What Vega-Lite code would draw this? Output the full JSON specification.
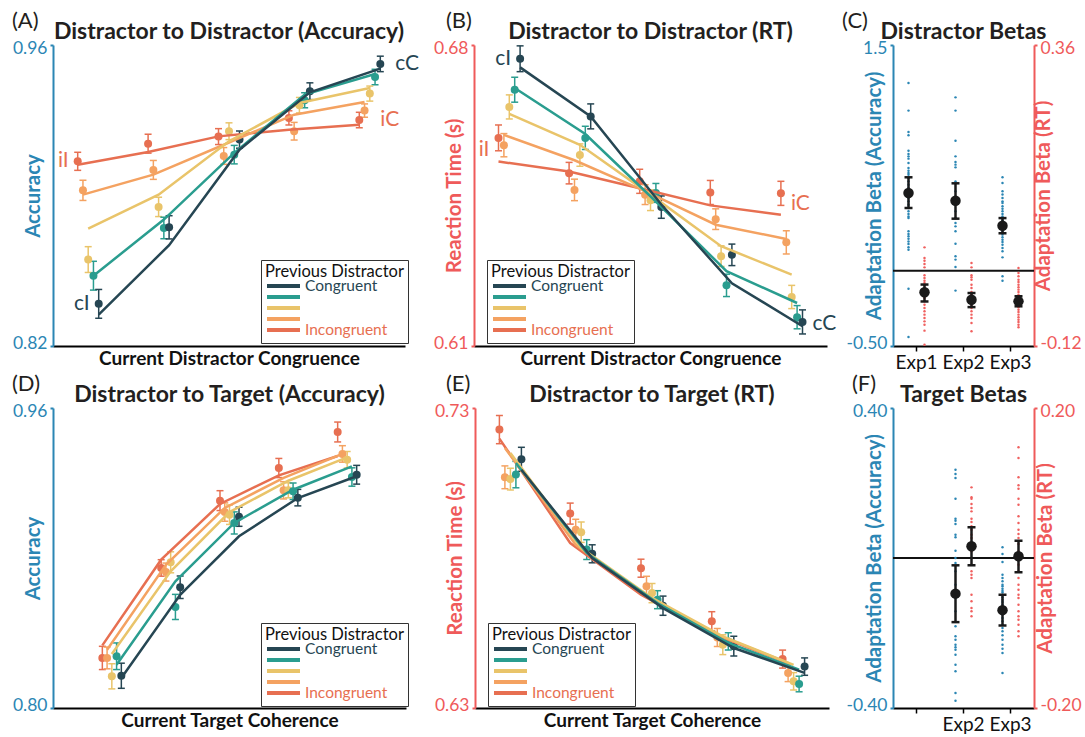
{
"$schema":"https://vega.github.io/schema/vega-lite/v6.json",
"padding":{"left":12,"top":10,"right":30,"bottom":0},
"background":"white",
"config":{"font":"Lato","view":{"stroke":null},
 "title":{"font":"Lato","fontSize":23,"fontWeight":"bold","color":"#231f20"},
 "axis":{"grid":false,"labelFont":"Lato","titleFont":"Lato"},
 "legend":{"labelFont":"Lato","titleFont":"Lato"},
 "text":{"font":"Lato"}},
"datasets":{
"A":[{"l":1,"p":"p5","m":0.9059,"lo":0.9017,"hi":0.9101,"f":0.9043},{"l":1,"p":"p4","m":0.8924,"lo":0.8877,"hi":0.8971,"f":0.8904},{"l":1,"p":"p3","m":0.8602,"lo":0.8542,"hi":0.8662,"f":0.8746},{"l":1,"p":"p2","m":0.8527,"lo":0.846,"hi":0.8594,"f":0.8527},{"l":1,"p":"p1","m":0.8396,"lo":0.8329,"hi":0.8463,"f":0.8346},
{"l":2,"p":"p5","m":0.9141,"lo":0.9097,"hi":0.9185,"f":0.9102},{"l":2,"p":"p4","m":0.9019,"lo":0.8975,"hi":0.9063,"f":0.8997},{"l":2,"p":"p3","m":0.8847,"lo":0.8802,"hi":0.8892,"f":0.8904},{"l":2,"p":"p2","m":0.8749,"lo":0.8699,"hi":0.8799,"f":0.8788},{"l":2,"p":"p1","m":0.8752,"lo":0.8698,"hi":0.8806,"f":0.8669},
{"l":3,"p":"p5","m":0.9174,"lo":0.9137,"hi":0.9211,"f":0.9175},{"l":3,"p":"p4","m":0.9084,"lo":0.9045,"hi":0.9123,"f":0.9136},{"l":3,"p":"p3","m":0.9199,"lo":0.916,"hi":0.9238,"f":0.9152},{"l":3,"p":"p2","m":0.909,"lo":0.9047,"hi":0.9133,"f":0.9098},{"l":3,"p":"p1","m":0.916,"lo":0.912,"hi":0.92,"f":0.9113},
{"l":4,"p":"p5","m":0.9261,"lo":0.9228,"hi":0.9294,"f":0.9206},{"l":4,"p":"p4","m":0.9199,"lo":0.9158,"hi":0.924,"f":0.9276},{"l":4,"p":"p3","m":0.932,"lo":0.9284,"hi":0.9356,"f":0.933},{"l":4,"p":"p2","m":0.9343,"lo":0.9308,"hi":0.9378,"f":0.9369},{"l":4,"p":"p1","m":0.9385,"lo":0.9346,"hi":0.9424,"f":0.938},
{"l":5,"p":"p5","m":0.9251,"lo":0.9215,"hi":0.9287,"f":0.9229},{"l":5,"p":"p4","m":0.9295,"lo":0.9264,"hi":0.9326,"f":0.9335},{"l":5,"p":"p3","m":0.9374,"lo":0.9339,"hi":0.9409,"f":0.94},{"l":5,"p":"p2","m":0.9451,"lo":0.9415,"hi":0.9487,"f":0.9465},{"l":5,"p":"p1","m":0.9512,"lo":0.9476,"hi":0.9548,"f":0.949}],
"B":[{"l":1,"p":"p5","m":0.6584,"lo":0.6554,"hi":0.6614,"f":0.6529},{"l":1,"p":"p4","m":0.6567,"lo":0.654,"hi":0.6594,"f":0.6591},{"l":1,"p":"p3","m":0.6656,"lo":0.6628,"hi":0.6684,"f":0.664},{"l":1,"p":"p2","m":0.6696,"lo":0.6667,"hi":0.6725,"f":0.67},{"l":1,"p":"p1","m":0.6768,"lo":0.6738,"hi":0.6798,"f":0.6748},
{"l":2,"p":"p5","m":0.6502,"lo":0.6477,"hi":0.6527,"f":0.6506},{"l":2,"p":"p4","m":0.6463,"lo":0.6438,"hi":0.6488,"f":0.6532},{"l":2,"p":"p3","m":0.6544,"lo":0.6518,"hi":0.657,"f":0.6568},{"l":2,"p":"p2","m":0.6584,"lo":0.6557,"hi":0.6611,"f":0.6593},{"l":2,"p":"p1","m":0.6634,"lo":0.6605,"hi":0.6663,"f":0.6634},
{"l":3,"p":"p5","m":0.6483,"lo":0.6455,"hi":0.6511,"f":0.6467},{"l":3,"p":"p4","m":0.6452,"lo":0.6429,"hi":0.6475,"f":0.646},{"l":3,"p":"p3","m":0.6439,"lo":0.6415,"hi":0.6463,"f":0.6452},{"l":3,"p":"p2","m":0.6456,"lo":0.6434,"hi":0.6478,"f":0.6436},{"l":3,"p":"p1","m":0.6423,"lo":0.6397,"hi":0.6449,"f":0.6429},
{"l":4,"p":"p5","m":0.6457,"lo":0.6429,"hi":0.6485,"f":0.6427},{"l":4,"p":"p4","m":0.6395,"lo":0.6371,"hi":0.6419,"f":0.6382},{"l":4,"p":"p3","m":0.6309,"lo":0.6285,"hi":0.6333,"f":0.6332},{"l":4,"p":"p2","m":0.6241,"lo":0.6215,"hi":0.6267,"f":0.6274},{"l":4,"p":"p1","m":0.6312,"lo":0.6287,"hi":0.6337,"f":0.6246},
{"l":5,"p":"p5","m":0.6455,"lo":0.6427,"hi":0.6483,"f":0.6405},{"l":5,"p":"p4","m":0.6341,"lo":0.6314,"hi":0.6368,"f":0.6349},{"l":5,"p":"p3","m":0.6214,"lo":0.6187,"hi":0.6241,"f":0.6266},{"l":5,"p":"p2","m":0.6167,"lo":0.614,"hi":0.6194,"f":0.62},{"l":5,"p":"p1","m":0.6156,"lo":0.6128,"hi":0.6184,"f":0.6146}],
"D":[{"l":1,"p":"p5","m":0.8267,"lo":0.8205,"hi":0.8329,"f":0.8334},{"l":1,"p":"p4","m":0.8267,"lo":0.8209,"hi":0.8325,"f":0.8311},{"l":1,"p":"p3","m":0.8169,"lo":0.8102,"hi":0.8236,"f":0.8288},{"l":1,"p":"p2","m":0.8276,"lo":0.8205,"hi":0.8347,"f":0.8231},{"l":1,"p":"p1","m":0.8172,"lo":0.8105,"hi":0.8239,"f":0.816},
{"l":2,"p":"p5","m":0.8747,"lo":0.8703,"hi":0.8791,"f":0.8791},{"l":2,"p":"p4","m":0.8725,"lo":0.8677,"hi":0.8773,"f":0.8764},{"l":2,"p":"p3","m":0.8777,"lo":0.8721,"hi":0.8833,"f":0.8729},{"l":2,"p":"p2","m":0.8539,"lo":0.8472,"hi":0.8606,"f":0.8676},{"l":2,"p":"p1","m":0.8644,"lo":0.8584,"hi":0.8704,"f":0.8604},
{"l":3,"p":"p5","m":0.9106,"lo":0.9053,"hi":0.9159,"f":0.9088},{"l":3,"p":"p4","m":0.9045,"lo":0.8996,"hi":0.9094,"f":0.9067},{"l":3,"p":"p3","m":0.9031,"lo":0.8979,"hi":0.9083,"f":0.9045},{"l":3,"p":"p2","m":0.8987,"lo":0.8928,"hi":0.9046,"f":0.8987},{"l":3,"p":"p1","m":0.902,"lo":0.8969,"hi":0.9071,"f":0.8916},
{"l":4,"p":"p5","m":0.928,"lo":0.9229,"hi":0.9331,"f":0.9241},{"l":4,"p":"p4","m":0.9161,"lo":0.9115,"hi":0.9207,"f":0.9227},{"l":4,"p":"p3","m":0.9161,"lo":0.9121,"hi":0.9201,"f":0.9212},{"l":4,"p":"p2","m":0.9156,"lo":0.9112,"hi":0.92,"f":0.9164},{"l":4,"p":"p1","m":0.9122,"lo":0.9078,"hi":0.9166,"f":0.912},
{"l":5,"p":"p5","m":0.9472,"lo":0.9419,"hi":0.9525,"f":0.9344},{"l":5,"p":"p4","m":0.9355,"lo":0.9311,"hi":0.9399,"f":0.9355},{"l":5,"p":"p3","m":0.9324,"lo":0.928,"hi":0.9368,"f":0.9337},{"l":5,"p":"p2","m":0.9232,"lo":0.9183,"hi":0.9281,"f":0.9289},{"l":5,"p":"p1","m":0.9244,"lo":0.9194,"hi":0.9294,"f":0.9236}],
"E":[{"l":1,"p":"p5","m":0.7228,"lo":0.7181,"hi":0.7275,"f":0.7198},{"l":1,"p":"p4","m":0.7069,"lo":0.7031,"hi":0.7107,"f":0.7167},{"l":1,"p":"p3","m":0.7063,"lo":0.7027,"hi":0.7099,"f":0.715},{"l":1,"p":"p2","m":0.7078,"lo":0.7034,"hi":0.7122,"f":0.7117},{"l":1,"p":"p1","m":0.7129,"lo":0.7089,"hi":0.7169,"f":0.7094},
{"l":2,"p":"p5","m":0.6948,"lo":0.6913,"hi":0.6983,"f":0.685},{"l":2,"p":"p4","m":0.6894,"lo":0.6859,"hi":0.6929,"f":0.6844},{"l":2,"p":"p3","m":0.6886,"lo":0.6852,"hi":0.692,"f":0.6833},{"l":2,"p":"p2","m":0.6828,"lo":0.6795,"hi":0.6861,"f":0.6817},{"l":2,"p":"p1","m":0.6814,"lo":0.6784,"hi":0.6844,"f":0.68},
{"l":3,"p":"p5","m":0.6766,"lo":0.6736,"hi":0.6796,"f":0.6678},{"l":3,"p":"p4","m":0.6706,"lo":0.6673,"hi":0.6739,"f":0.6672},{"l":3,"p":"p3","m":0.6683,"lo":0.6651,"hi":0.6715,"f":0.6667},{"l":3,"p":"p2","m":0.6661,"lo":0.6631,"hi":0.6691,"f":0.665},{"l":3,"p":"p1","m":0.6641,"lo":0.6609,"hi":0.6673,"f":0.6633},
{"l":4,"p":"p5","m":0.6589,"lo":0.6557,"hi":0.6621,"f":0.655},{"l":4,"p":"p4","m":0.6535,"lo":0.6505,"hi":0.6565,"f":0.6544},{"l":4,"p":"p3","m":0.6511,"lo":0.6478,"hi":0.6544,"f":0.6539},{"l":4,"p":"p2","m":0.6522,"lo":0.6493,"hi":0.6551,"f":0.6517},{"l":4,"p":"p1","m":0.6506,"lo":0.6473,"hi":0.6539,"f":0.65},
{"l":5,"p":"p5","m":0.6463,"lo":0.6433,"hi":0.6493,"f":0.6456},{"l":5,"p":"p4","m":0.6417,"lo":0.6388,"hi":0.6446,"f":0.645},{"l":5,"p":"p3","m":0.6389,"lo":0.636,"hi":0.6418,"f":0.6444},{"l":5,"p":"p2","m":0.638,"lo":0.6354,"hi":0.6406,"f":0.6428},{"l":5,"p":"p1","m":0.6438,"lo":0.6409,"hi":0.6467,"f":0.6417}],
"dC":[{"e":"Exp1","k":"acc","v":1.247},{"e":"Exp1","k":"acc","v":1.064},{"e":"Exp1","k":"acc","v":0.922},{"e":"Exp1","k":"acc","v":0.9},{"e":"Exp1","k":"acc","v":0.798},{"e":"Exp1","k":"acc","v":0.776},{"e":"Exp1","k":"acc","v":0.76},{"e":"Exp1","k":"acc","v":0.745},{"e":"Exp1","k":"acc","v":0.716},{"e":"Exp1","k":"acc","v":0.683},{"e":"Exp1","k":"acc","v":0.665},{"e":"Exp1","k":"acc","v":0.649},{"e":"Exp1","k":"acc","v":0.638},{"e":"Exp1","k":"acc","v":0.616},{"e":"Exp1","k":"acc","v":0.594},{"e":"Exp1","k":"acc","v":0.572},{"e":"Exp1","k":"acc","v":0.55},{"e":"Exp1","k":"acc","v":0.528},{"e":"Exp1","k":"acc","v":0.506},{"e":"Exp1","k":"acc","v":0.483},{"e":"Exp1","k":"acc","v":0.461},{"e":"Exp1","k":"acc","v":0.439},{"e":"Exp1","k":"acc","v":0.417},{"e":"Exp1","k":"acc","v":0.395},{"e":"Exp1","k":"acc","v":0.377},{"e":"Exp1","k":"acc","v":0.361},{"e":"Exp1","k":"acc","v":0.35},{"e":"Exp1","k":"acc","v":0.262},{"e":"Exp1","k":"acc","v":0.244},{"e":"Exp1","k":"acc","v":0.229},{"e":"Exp1","k":"acc","v":0.213},{"e":"Exp1","k":"acc","v":0.195},{"e":"Exp1","k":"acc","v":0.178},{"e":"Exp1","k":"acc","v":0.156},{"e":"Exp1","k":"acc","v":0.14},{"e":"Exp1","k":"acc","v":-0.119},{"e":"Exp1","k":"acc","v":-0.44},
{"e":"Exp2","k":"acc","v":1.152},{"e":"Exp2","k":"acc","v":1.064},{"e":"Exp2","k":"acc","v":0.864},{"e":"Exp2","k":"acc","v":0.76},{"e":"Exp2","k":"acc","v":0.723},{"e":"Exp2","k":"acc","v":0.705},{"e":"Exp2","k":"acc","v":0.687},{"e":"Exp2","k":"acc","v":0.594},{"e":"Exp2","k":"acc","v":0.528},{"e":"Exp2","k":"acc","v":0.494},{"e":"Exp2","k":"acc","v":0.461},{"e":"Exp2","k":"acc","v":0.439},{"e":"Exp2","k":"acc","v":0.395},{"e":"Exp2","k":"acc","v":0.35},{"e":"Exp2","k":"acc","v":0.317},{"e":"Exp2","k":"acc","v":0.295},{"e":"Exp2","k":"acc","v":0.262},{"e":"Exp2","k":"acc","v":0.18},{"e":"Exp2","k":"acc","v":0.096},{"e":"Exp2","k":"acc","v":0.074},{"e":"Exp2","k":"acc","v":0.025},{"e":"Exp2","k":"acc","v":-0.132},
{"e":"Exp3","k":"acc","v":0.621},{"e":"Exp3","k":"acc","v":0.583},{"e":"Exp3","k":"acc","v":0.528},{"e":"Exp3","k":"acc","v":0.506},{"e":"Exp3","k":"acc","v":0.483},{"e":"Exp3","k":"acc","v":0.461},{"e":"Exp3","k":"acc","v":0.45},{"e":"Exp3","k":"acc","v":0.428},{"e":"Exp3","k":"acc","v":0.412},{"e":"Exp3","k":"acc","v":0.395},{"e":"Exp3","k":"acc","v":0.377},{"e":"Exp3","k":"acc","v":0.361},{"e":"Exp3","k":"acc","v":0.35},{"e":"Exp3","k":"acc","v":0.333},{"e":"Exp3","k":"acc","v":0.317},{"e":"Exp3","k":"acc","v":0.306},{"e":"Exp3","k":"acc","v":0.288},{"e":"Exp3","k":"acc","v":0.273},{"e":"Exp3","k":"acc","v":0.257},{"e":"Exp3","k":"acc","v":0.24},{"e":"Exp3","k":"acc","v":0.222},{"e":"Exp3","k":"acc","v":0.206},{"e":"Exp3","k":"acc","v":0.191},{"e":"Exp3","k":"acc","v":0.173},{"e":"Exp3","k":"acc","v":0.151},{"e":"Exp3","k":"acc","v":0.129},{"e":"Exp3","k":"acc","v":0.089},{"e":"Exp3","k":"acc","v":-0.037},{"e":"Exp3","k":"acc","v":-0.066},
{"e":"Exp1","k":"rt","v":0.0373},{"e":"Exp1","k":"rt","v":0.0203},{"e":"Exp1","k":"rt","v":0.0161},{"e":"Exp1","k":"rt","v":0.0108},{"e":"Exp1","k":"rt","v":0.0054},{"e":"Exp1","k":"rt","v":-0.0073},{"e":"Exp1","k":"rt","v":-0.0116},{"e":"Exp1","k":"rt","v":-0.0158},{"e":"Exp1","k":"rt","v":-0.0195},{"e":"Exp1","k":"rt","v":-0.0232},{"e":"Exp1","k":"rt","v":-0.0275},{"e":"Exp1","k":"rt","v":-0.0317},{"e":"Exp1","k":"rt","v":-0.0355},{"e":"Exp1","k":"rt","v":-0.0392},{"e":"Exp1","k":"rt","v":-0.0434},{"e":"Exp1","k":"rt","v":-0.0487},{"e":"Exp1","k":"rt","v":-0.0541},{"e":"Exp1","k":"rt","v":-0.0594},{"e":"Exp1","k":"rt","v":-0.0647},{"e":"Exp1","k":"rt","v":-0.07},{"e":"Exp1","k":"rt","v":-0.0753},{"e":"Exp1","k":"rt","v":-0.0807},{"e":"Exp1","k":"rt","v":-0.086},{"e":"Exp1","k":"rt","v":-0.0955},{"e":"Exp1","k":"rt","v":-0.1179},
{"e":"Exp2","k":"rt","v":0.0124},{"e":"Exp2","k":"rt","v":0.0054},{"e":"Exp2","k":"rt","v":-0.0073},{"e":"Exp2","k":"rt","v":-0.0105},{"e":"Exp2","k":"rt","v":-0.0142},{"e":"Exp2","k":"rt","v":-0.0222},{"e":"Exp2","k":"rt","v":-0.0275},{"e":"Exp2","k":"rt","v":-0.0339},{"e":"Exp2","k":"rt","v":-0.0381},{"e":"Exp2","k":"rt","v":-0.0424},{"e":"Exp2","k":"rt","v":-0.0461},{"e":"Exp2","k":"rt","v":-0.0498},{"e":"Exp2","k":"rt","v":-0.0541},{"e":"Exp2","k":"rt","v":-0.0594},{"e":"Exp2","k":"rt","v":-0.0647},{"e":"Exp2","k":"rt","v":-0.07},{"e":"Exp2","k":"rt","v":-0.0753},{"e":"Exp2","k":"rt","v":-0.0833},{"e":"Exp2","k":"rt","v":-0.0966},
{"e":"Exp3","k":"rt","v":0.0044},{"e":"Exp3","k":"rt","v":-0.0036},{"e":"Exp3","k":"rt","v":-0.0089},{"e":"Exp3","k":"rt","v":-0.0142},{"e":"Exp3","k":"rt","v":-0.0179},{"e":"Exp3","k":"rt","v":-0.0222},{"e":"Exp3","k":"rt","v":-0.0264},{"e":"Exp3","k":"rt","v":-0.0301},{"e":"Exp3","k":"rt","v":-0.0339},{"e":"Exp3","k":"rt","v":-0.0381},{"e":"Exp3","k":"rt","v":-0.0424},{"e":"Exp3","k":"rt","v":-0.0461},{"e":"Exp3","k":"rt","v":-0.0498},{"e":"Exp3","k":"rt","v":-0.0541},{"e":"Exp3","k":"rt","v":-0.0583},{"e":"Exp3","k":"rt","v":-0.0621},{"e":"Exp3","k":"rt","v":-0.0658},{"e":"Exp3","k":"rt","v":-0.07},{"e":"Exp3","k":"rt","v":-0.0743},{"e":"Exp3","k":"rt","v":-0.078},{"e":"Exp3","k":"rt","v":-0.0817},{"e":"Exp3","k":"rt","v":-0.086},{"e":"Exp3","k":"rt","v":-0.0902}],
"mC":[{"e":"Exp1","k":"acc","m":0.517,"lo":0.417,"hi":0.621},{"e":"Exp2","k":"acc","m":0.465,"lo":0.346,"hi":0.581},{"e":"Exp3","k":"acc","m":0.299,"lo":0.249,"hi":0.35},{"e":"Exp1","k":"rt","m":-0.0344,"lo":-0.049,"hi":-0.022},{"e":"Exp2","k":"rt","m":-0.0462,"lo":-0.058,"hi":-0.0355},{"e":"Exp3","k":"rt","m":-0.0488,"lo":-0.0567,"hi":-0.0407}],
"dF":[{"e":"Exp2","k":"acc","v":0.2356},{"e":"Exp2","k":"acc","v":0.224},{"e":"Exp2","k":"acc","v":0.2133},{"e":"Exp2","k":"acc","v":0.1582},{"e":"Exp2","k":"acc","v":0.1049},{"e":"Exp2","k":"acc","v":0.0996},{"e":"Exp2","k":"acc","v":0.0907},{"e":"Exp2","k":"acc","v":0.0622},{"e":"Exp2","k":"acc","v":0.0551},{"e":"Exp2","k":"acc","v":0.0196},{"e":"Exp2","k":"acc","v":0.0},{"e":"Exp2","k":"acc","v":-0.0133},{"e":"Exp2","k":"acc","v":-0.0356},{"e":"Exp2","k":"acc","v":-0.0711},{"e":"Exp2","k":"acc","v":-0.1067},{"e":"Exp2","k":"acc","v":-0.1422},{"e":"Exp2","k":"acc","v":-0.1822},{"e":"Exp2","k":"acc","v":-0.2089},{"e":"Exp2","k":"acc","v":-0.2178},{"e":"Exp2","k":"acc","v":-0.2311},{"e":"Exp2","k":"acc","v":-0.2382},{"e":"Exp2","k":"acc","v":-0.2444},{"e":"Exp2","k":"acc","v":-0.2578},{"e":"Exp2","k":"acc","v":-0.2844},{"e":"Exp2","k":"acc","v":-0.3022},{"e":"Exp2","k":"acc","v":-0.36},{"e":"Exp2","k":"acc","v":-0.3804},
{"e":"Exp3","k":"acc","v":0.0284},{"e":"Exp3","k":"acc","v":0.0107},{"e":"Exp3","k":"acc","v":-0.0107},{"e":"Exp3","k":"acc","v":-0.0444},{"e":"Exp3","k":"acc","v":-0.0533},{"e":"Exp3","k":"acc","v":-0.0622},{"e":"Exp3","k":"acc","v":-0.0711},{"e":"Exp3","k":"acc","v":-0.0756},{"e":"Exp3","k":"acc","v":-0.0818},{"e":"Exp3","k":"acc","v":-0.0871},{"e":"Exp3","k":"acc","v":-0.0916},{"e":"Exp3","k":"acc","v":-0.0978},{"e":"Exp3","k":"acc","v":-0.1049},{"e":"Exp3","k":"acc","v":-0.1111},{"e":"Exp3","k":"acc","v":-0.1173},{"e":"Exp3","k":"acc","v":-0.1244},{"e":"Exp3","k":"acc","v":-0.1333},{"e":"Exp3","k":"acc","v":-0.1422},{"e":"Exp3","k":"acc","v":-0.1511},{"e":"Exp3","k":"acc","v":-0.16},{"e":"Exp3","k":"acc","v":-0.1689},{"e":"Exp3","k":"acc","v":-0.1778},{"e":"Exp3","k":"acc","v":-0.1867},{"e":"Exp3","k":"acc","v":-0.1956},{"e":"Exp3","k":"acc","v":-0.2062},{"e":"Exp3","k":"acc","v":-0.2178},{"e":"Exp3","k":"acc","v":-0.2311},{"e":"Exp3","k":"acc","v":-0.2418},{"e":"Exp3","k":"acc","v":-0.2533},{"e":"Exp3","k":"acc","v":-0.3067},
{"e":"Exp2","k":"rt","v":0.0942},{"e":"Exp2","k":"rt","v":0.0809},{"e":"Exp2","k":"rt","v":0.0791},{"e":"Exp2","k":"rt","v":0.072},{"e":"Exp2","k":"rt","v":0.0667},{"e":"Exp2","k":"rt","v":0.0622},{"e":"Exp2","k":"rt","v":0.0524},{"e":"Exp2","k":"rt","v":0.048},{"e":"Exp2","k":"rt","v":0.0422},{"e":"Exp2","k":"rt","v":0.0378},{"e":"Exp2","k":"rt","v":0.0311},{"e":"Exp2","k":"rt","v":0.0267},{"e":"Exp2","k":"rt","v":0.0187},{"e":"Exp2","k":"rt","v":0.0178},{"e":"Exp2","k":"rt","v":0.0089},{"e":"Exp2","k":"rt","v":-0.0089},{"e":"Exp2","k":"rt","v":-0.0178},{"e":"Exp2","k":"rt","v":-0.0222},{"e":"Exp2","k":"rt","v":-0.0267},{"e":"Exp2","k":"rt","v":-0.0489},{"e":"Exp2","k":"rt","v":-0.0578},{"e":"Exp2","k":"rt","v":-0.0667},{"e":"Exp2","k":"rt","v":-0.0711},{"e":"Exp2","k":"rt","v":-0.0778},
{"e":"Exp3","k":"rt","v":0.1476},{"e":"Exp3","k":"rt","v":0.1333},{"e":"Exp3","k":"rt","v":0.1076},{"e":"Exp3","k":"rt","v":0.0969},{"e":"Exp3","k":"rt","v":0.0924},{"e":"Exp3","k":"rt","v":0.0791},{"e":"Exp3","k":"rt","v":0.0711},{"e":"Exp3","k":"rt","v":0.0556},{"e":"Exp3","k":"rt","v":0.0467},{"e":"Exp3","k":"rt","v":0.0378},{"e":"Exp3","k":"rt","v":0.032},{"e":"Exp3","k":"rt","v":0.0267},{"e":"Exp3","k":"rt","v":0.0187},{"e":"Exp3","k":"rt","v":0.0089},{"e":"Exp3","k":"rt","v":0.0},{"e":"Exp3","k":"rt","v":-0.0089},{"e":"Exp3","k":"rt","v":-0.0178},{"e":"Exp3","k":"rt","v":-0.0267},{"e":"Exp3","k":"rt","v":-0.0356},{"e":"Exp3","k":"rt","v":-0.0422},{"e":"Exp3","k":"rt","v":-0.0489},{"e":"Exp3","k":"rt","v":-0.0533},{"e":"Exp3","k":"rt","v":-0.0622},{"e":"Exp3","k":"rt","v":-0.0711},{"e":"Exp3","k":"rt","v":-0.0778},{"e":"Exp3","k":"rt","v":-0.0822},{"e":"Exp3","k":"rt","v":-0.0889},{"e":"Exp3","k":"rt","v":-0.0978},{"e":"Exp3","k":"rt","v":-0.1044}],
"mF":[{"e":"Exp2","k":"acc","m":-0.095,"lo":-0.171,"hi":-0.0195},{"e":"Exp3","k":"acc","m":-0.139,"lo":-0.18,"hi":-0.098},{"e":"Exp2","k":"rt","m":0.0156,"lo":-0.0097,"hi":0.041},{"e":"Exp3","k":"rt","m":0.0023,"lo":-0.019,"hi":0.023}]
},
"vconcat":[
{"hconcat":[
 {"hconcat":[
 {"title":{"text":"(A)","anchor":"start","frame":"group","dx":-41,"offset":-12,"fontSize":22,"fontWeight":"normal"},
  "resolve":{"scale":{"color":"independent"},"legend":{"color":"independent"}},
  "vconcat":[{
  "width":352,"height":301,
  "title":{"text":"Distractor to Distractor (Accuracy)","frame":"group","offset":-5},
  "data":{"name":"A"},
  "encoding":{
   "x":{"field":"l","type":"ordinal","scale":{"paddingInner":0,"paddingOuter":0},"axis":{"title":"Current Distractor Congruence","labels":false,"ticks":false,"domainColor":"#000","domainWidth":2,"titleFontSize":19,"titleFontWeight":"bold","titleColor":"#111","titlePadding":3}},
   "color":{"field":"p","type":"nominal","scale":{"domain":["p1","p2","p3","p4","p5"],"range":["#264653","#2a9d8f","#e9c46a","#f4a261","#e76f51"]},"legend":{"orient":"none","legendX":208,"legendY":215,"title":"Previous Distractor","symbolType":"stroke","symbolStrokeWidth":4,"symbolSize":1089,"symbolOpacity":1,"clipHeight":5,"rowPadding":-10.5,"labelExpr":"datum.value=='p1'?'Congruent':datum.value=='p5'?'Incongruent':''","labelColor":{"expr":"datum.value=='p1'?'#264653':'#e76f51'"},"labelFontSize":15.5,"labelOffset":3,"titleFontSize":16.5,"titleFontWeight":"normal","titleColor":"#111","titlePadding":3,"strokeColor":"#333","fillColor":"white","padding":4}}},
  "layer":[
   {"mark":{"type":"rule","strokeWidth":1.5,"xOffset":{"expr":"(2-indexof(['p1','p2','p3','p4','p5'],datum.p))*5.25"}},"encoding":{"y":{"field":"lo","type":"quantitative","title":"Accuracy","scale":{"domain":[0.82,0.96],"nice":false,"zero":false},"axis":{"values":[0.82,0.96],"format":".2f","labelFlush":true,"labelFlushOffset":6,"domainColor":"#2b86b4","domainWidth":2,"tickColor":"#2b86b4","tickSize":3,"tickWidth":2,"labelColor":"#2b86b4","labelFontSize":17.5,"labelPadding":3,"titleColor":"#2b86b4","titleFontSize":20.5,"titleFontWeight":"bold","minExtent":6,"maxExtent":6,"titlePadding":4}},"y2":{"field":"hi"}}},
   {"mark":{"type":"tick","size":7,"thickness":1.5,"opacity":1,"xOffset":{"expr":"(2-indexof(['p1','p2','p3','p4','p5'],datum.p))*5.25"}},"encoding":{"y":{"field":"lo","type":"quantitative","title":"Accuracy"}}},
   {"mark":{"type":"tick","size":7,"thickness":1.5,"opacity":1,"xOffset":{"expr":"(2-indexof(['p1','p2','p3','p4','p5'],datum.p))*5.25"}},"encoding":{"y":{"field":"hi","type":"quantitative","title":"Accuracy"}}},
   {"mark":{"type":"point","filled":true,"size":64,"opacity":1,"xOffset":{"expr":"(2-indexof(['p1','p2','p3','p4','p5'],datum.p))*5.25"}},"encoding":{"y":{"field":"m","type":"quantitative","title":"Accuracy"}}},
   {"mark":{"type":"line","strokeWidth":2.5,"xOffset":{"expr":"(2-indexof(['p1','p2','p3','p4','p5'],datum.p))*5.25"}},"encoding":{"y":{"field":"f","type":"quantitative","title":"Accuracy"}}},
   {"data":{"values":[{"l":1,"p":"p1","y":0.8396,"t":"cI"},{"l":1,"p":"p5","y":0.9059,"t":"iI"}]},"mark":{"type":"text","align":"right","baseline":"middle","dx":-9,"fontSize":21,"xOffset":{"expr":"(2-indexof(['p1','p2','p3','p4','p5'],datum.p))*5.25"}},"encoding":{"y":{"field":"y","type":"quantitative","title":"Accuracy"},"text":{"field":"t"}}},
   {"data":{"values":[{"l":5,"p":"p1","y":0.9512,"t":"cC"}]},"mark":{"type":"text","align":"left","baseline":"middle","dx":15,"fontSize":21,"xOffset":{"expr":"(2-indexof(['p1','p2','p3','p4','p5'],datum.p))*5.25"}},"encoding":{"y":{"field":"y","type":"quantitative","title":"Accuracy"},"text":{"field":"t"}}},
   {"data":{"values":[{"l":5,"p":"p5","y":0.9251,"t":"iC"}]},"mark":{"type":"text","align":"left","baseline":"middle","dx":21,"fontSize":21,"xOffset":{"expr":"(2-indexof(['p1','p2','p3','p4','p5'],datum.p))*5.25"}},"encoding":{"y":{"field":"y","type":"quantitative","title":"Accuracy"},"text":{"field":"t"}}}
  ]}]},
 {"title":{"text":"(B)","anchor":"start","frame":"group","dx":-28,"offset":-12,"fontSize":22,"fontWeight":"normal"},
  "resolve":{"scale":{"color":"independent"},"legend":{"color":"independent"}},
  "vconcat":[{
  "width":353,"height":301,
  "title":{"text":"Distractor to Distractor (RT)","frame":"group","offset":-5},
  "data":{"name":"B"},
  "encoding":{
   "x":{"field":"l","type":"ordinal","scale":{"paddingInner":0,"paddingOuter":0},"axis":{"title":"Current Distractor Congruence","labels":false,"ticks":false,"domainColor":"#000","domainWidth":2,"titleFontSize":19,"titleFontWeight":"bold","titleColor":"#111","titlePadding":3}},
   "color":{"field":"p","type":"nominal","scale":{"domain":["p1","p2","p3","p4","p5"],"range":["#264653","#2a9d8f","#e9c46a","#f4a261","#e76f51"]},"legend":{"orient":"none","legendX":13,"legendY":215,"title":"Previous Distractor","symbolType":"stroke","symbolStrokeWidth":4,"symbolSize":1089,"symbolOpacity":1,"clipHeight":5,"rowPadding":-10.5,"labelExpr":"datum.value=='p1'?'Congruent':datum.value=='p5'?'Incongruent':''","labelColor":{"expr":"datum.value=='p1'?'#264653':'#e76f51'"},"labelFontSize":15.5,"labelOffset":3,"titleFontSize":16.5,"titleFontWeight":"normal","titleColor":"#111","titlePadding":3,"strokeColor":"#333","fillColor":"white","padding":4}}},
  "layer":[
   {"mark":{"type":"rule","strokeWidth":1.5,"xOffset":{"expr":"(2-indexof(['p1','p2','p3','p4','p5'],datum.p))*5.4"}},"encoding":{"y":{"field":"lo","type":"quantitative","title":"Reaction Time (s)","scale":{"domain":[0.61,0.68],"nice":false,"zero":false},"axis":{"values":[0.61,0.68],"format":".2f","labelFlush":true,"labelFlushOffset":6,"domainColor":"#ef5a5a","domainWidth":2,"tickColor":"#ef5a5a","tickSize":3,"tickWidth":2,"labelColor":"#ef5a5a","labelFontSize":17.5,"labelPadding":3,"titleColor":"#ef5a5a","titleFontSize":20.5,"titleFontWeight":"bold","minExtent":6,"maxExtent":6,"titlePadding":4}},"y2":{"field":"hi"}}},
   {"mark":{"type":"tick","size":7,"thickness":1.5,"opacity":1,"xOffset":{"expr":"(2-indexof(['p1','p2','p3','p4','p5'],datum.p))*5.4"}},"encoding":{"y":{"field":"lo","type":"quantitative","title":"Reaction Time (s)"}}},
   {"mark":{"type":"tick","size":7,"thickness":1.5,"opacity":1,"xOffset":{"expr":"(2-indexof(['p1','p2','p3','p4','p5'],datum.p))*5.4"}},"encoding":{"y":{"field":"hi","type":"quantitative","title":"Reaction Time (s)"}}},
   {"mark":{"type":"point","filled":true,"size":64,"opacity":1,"xOffset":{"expr":"(2-indexof(['p1','p2','p3','p4','p5'],datum.p))*5.4"}},"encoding":{"y":{"field":"m","type":"quantitative","title":"Reaction Time (s)"}}},
   {"mark":{"type":"line","strokeWidth":2.5,"xOffset":{"expr":"(2-indexof(['p1','p2','p3','p4','p5'],datum.p))*5.4"}},"encoding":{"y":{"field":"f","type":"quantitative","title":"Reaction Time (s)"}}},
   {"data":{"values":[{"l":1,"p":"p1","y":0.6768,"t":"cI"},{"l":1,"p":"p5","y":0.6556,"t":"iI"}]},"mark":{"type":"text","align":"right","baseline":"middle","dx":-9,"fontSize":21,"xOffset":{"expr":"(2-indexof(['p1','p2','p3','p4','p5'],datum.p))*5.4"}},"encoding":{"y":{"field":"y","type":"quantitative","title":"Reaction Time (s)"},"text":{"field":"t"}}},
   {"data":{"values":[{"l":5,"p":"p1","y":0.6152,"t":"cC"},{"l":5,"p":"p5","y":0.6431,"t":"iC"}]},"mark":{"type":"text","align":"left","baseline":"middle","dx":10,"fontSize":21,"xOffset":{"expr":"(2-indexof(['p1','p2','p3','p4','p5'],datum.p))*5.4"}},"encoding":{"y":{"field":"y","type":"quantitative","title":"Reaction Time (s)"},"text":{"field":"t"}}}
  ]}]}
 ],"spacing":13,"resolve":{"scale":{"color":"independent"},"legend":{"color":"independent"}}},
 {"title":{"text":"(C)","anchor":"start","frame":"group","dx":-51,"offset":-12,"fontSize":22,"fontWeight":"normal"},
  "vconcat":[{
  "width":141,"height":301,
  "title":{"text":"Distractor Betas","frame":"group","offset":-5},
  "layer":[
   {"layer":[
    {"data":{"values":[{}]},"mark":{"type":"rule","color":"#111","strokeWidth":2},"encoding":{"y":{"datum":0,"type":"quantitative","title":"Adaptation Beta (Accuracy)","scale":{"domain":[-0.5,1.5],"nice":false,"zero":false},"axis":{"values":[-0.5,1.5],"labelExpr":"datum.value > 1 ? '1.5' : '-0.50'","labelFlush":true,"labelFlushOffset":6,"domainColor":"#2b86b4","domainWidth":2,"tickColor":"#2b86b4","tickSize":3,"tickWidth":2,"labelColor":"#2b86b4","labelFontSize":17.5,"labelPadding":3,"titleColor":"#2b86b4","titleFontSize":20.5,"titleFontWeight":"bold","minExtent":5,"maxExtent":5,"titlePadding":4}}}},
    {"data":{"name":"dC"},"transform":[{"filter":"datum.k == 'acc'"}],"mark":{"type":"point","filled":true,"size":6,"color":"#2b86b4","opacity":1,"xOffset":-8},"encoding":{"x":{"field":"e","type":"nominal","scale":{"domain":["Exp1","Exp2","Exp3"],"paddingInner":0,"paddingOuter":0},"axis":{"title":null,"labelAngle":0,"labelFontSize":19,"labelColor":"#111","domainColor":"#000","domainWidth":2,"tickColor":"#000","tickSize":5,"tickWidth":1.5,"labelPadding":2}},"y":{"field":"v","type":"quantitative","title":"Adaptation Beta (Accuracy)"}}},
    {"data":{"name":"mC"},"transform":[{"filter":"datum.k == 'acc'"}],"mark":{"type":"rule","color":"#1a1a1a","strokeWidth":2.5,"xOffset":-8},"encoding":{"x":{"field":"e","type":"nominal"},"y":{"field":"lo","type":"quantitative","title":"Adaptation Beta (Accuracy)"},"y2":{"field":"hi"}}},
    {"data":{"name":"mC"},"transform":[{"filter":"datum.k == 'acc'"}],"mark":{"type":"tick","color":"#1a1a1a","size":8,"thickness":2.5,"opacity":1,"xOffset":-8},"encoding":{"x":{"field":"e","type":"nominal"},"y":{"field":"lo","type":"quantitative","title":"Adaptation Beta (Accuracy)"}}},
    {"data":{"name":"mC"},"transform":[{"filter":"datum.k == 'acc'"}],"mark":{"type":"tick","color":"#1a1a1a","size":8,"thickness":2.5,"opacity":1,"xOffset":-8},"encoding":{"x":{"field":"e","type":"nominal"},"y":{"field":"hi","type":"quantitative","title":"Adaptation Beta (Accuracy)"}}},
    {"data":{"name":"mC"},"transform":[{"filter":"datum.k == 'acc'"}],"mark":{"type":"point","filled":true,"size":110,"color":"#1a1a1a","opacity":1,"xOffset":-8},"encoding":{"x":{"field":"e","type":"nominal"},"y":{"field":"m","type":"quantitative","title":"Adaptation Beta (Accuracy)"}}}
   ]},
   {"layer":[
    {"data":{"name":"dC"},"transform":[{"filter":"datum.k == 'rt'"}],"mark":{"type":"point","filled":true,"size":6,"color":"#f0605f","opacity":1,"xOffset":8},"encoding":{"x":{"field":"e","type":"nominal"},"y":{"field":"v","type":"quantitative","title":"Adaptation Beta (RT)","scale":{"domain":[-0.12,0.36],"nice":false,"zero":false},"axis":{"orient":"right","values":[-0.12,0.36],"labelExpr":"datum.value > 0 ? '0.36' : '-0.12'","labelFlush":true,"labelFlushOffset":6,"domainColor":"#ef5a5a","domainWidth":2,"tickColor":"#ef5a5a","tickSize":3,"tickWidth":2,"labelColor":"#ef5a5a","labelFontSize":17.5,"labelPadding":3,"titleColor":"#ef5a5a","titleFontSize":20.5,"titleFontWeight":"bold","titleAngle":270,"titleBaseline":"top","minExtent":2,"maxExtent":2,"titlePadding":-3}}}},
    {"data":{"name":"mC"},"transform":[{"filter":"datum.k == 'rt'"}],"mark":{"type":"rule","color":"#1a1a1a","strokeWidth":2.5,"xOffset":8},"encoding":{"x":{"field":"e","type":"nominal"},"y":{"field":"lo","type":"quantitative","title":"Adaptation Beta (RT)"},"y2":{"field":"hi"}}},
    {"data":{"name":"mC"},"transform":[{"filter":"datum.k == 'rt'"}],"mark":{"type":"tick","color":"#1a1a1a","size":8,"thickness":2.5,"opacity":1,"xOffset":8},"encoding":{"x":{"field":"e","type":"nominal"},"y":{"field":"lo","type":"quantitative","title":"Adaptation Beta (RT)"}}},
    {"data":{"name":"mC"},"transform":[{"filter":"datum.k == 'rt'"}],"mark":{"type":"tick","color":"#1a1a1a","size":8,"thickness":2.5,"opacity":1,"xOffset":8},"encoding":{"x":{"field":"e","type":"nominal"},"y":{"field":"hi","type":"quantitative","title":"Adaptation Beta (RT)"}}},
    {"data":{"name":"mC"},"transform":[{"filter":"datum.k == 'rt'"}],"mark":{"type":"point","filled":true,"size":110,"color":"#1a1a1a","opacity":1,"xOffset":8},"encoding":{"x":{"field":"e","type":"nominal"},"y":{"field":"m","type":"quantitative","title":"Adaptation Beta (RT)"}}}
   ]}
  ],
  "resolve":{"scale":{"y":"independent"}}
  }]}
 ],"spacing":5,"resolve":{"scale":{"color":"independent"},"legend":{"color":"independent"}}},
{"hconcat":[
 {"hconcat":[
 {"title":{"text":"(D)","anchor":"start","frame":"group","dx":-41,"offset":-12,"fontSize":22,"fontWeight":"normal"},
  "resolve":{"scale":{"color":"independent"},"legend":{"color":"independent"}},
  "vconcat":[{
  "width":353,"height":300,
  "title":{"text":"Distractor to Target (Accuracy)","frame":"group","offset":-5},
  "data":{"name":"D"},
  "encoding":{
   "x":{"field":"l","type":"ordinal","scale":{"paddingInner":0,"paddingOuter":0.5},"axis":{"title":"Current Target Coherence","labels":false,"ticks":false,"domainColor":"#000","domainWidth":2,"titleFontSize":19,"titleFontWeight":"bold","titleColor":"#111","titlePadding":3}},
   "color":{"field":"p","type":"nominal","scale":{"domain":["p1","p2","p3","p4","p5"],"range":["#264653","#2a9d8f","#e9c46a","#f4a261","#e76f51"]},"legend":{"orient":"none","legendX":208,"legendY":215,"title":"Previous Distractor","symbolType":"stroke","symbolStrokeWidth":4,"symbolSize":1089,"symbolOpacity":1,"clipHeight":5,"rowPadding":-10.5,"labelExpr":"datum.value=='p1'?'Congruent':datum.value=='p5'?'Incongruent':''","labelColor":{"expr":"datum.value=='p1'?'#264653':'#e76f51'"},"labelFontSize":15.5,"labelOffset":3,"titleFontSize":16.5,"titleFontWeight":"normal","titleColor":"#111","titlePadding":3,"strokeColor":"#333","fillColor":"white","padding":4}}},
  "layer":[
   {"mark":{"type":"rule","strokeWidth":1.5,"xOffset":{"expr":"(2-indexof(['p1','p2','p3','p4','p5'],datum.p))*4.75"}},"encoding":{"y":{"field":"lo","type":"quantitative","title":"Accuracy","scale":{"domain":[0.8,0.96],"nice":false,"zero":false},"axis":{"values":[0.8,0.96],"format":".2f","labelFlush":true,"labelFlushOffset":6,"domainColor":"#2b86b4","domainWidth":2,"tickColor":"#2b86b4","tickSize":3,"tickWidth":2,"labelColor":"#2b86b4","labelFontSize":17.5,"labelPadding":3,"titleColor":"#2b86b4","titleFontSize":20.5,"titleFontWeight":"bold","minExtent":6,"maxExtent":6,"titlePadding":4}},"y2":{"field":"hi"}}},
   {"mark":{"type":"tick","size":7,"thickness":1.5,"opacity":1,"xOffset":{"expr":"(2-indexof(['p1','p2','p3','p4','p5'],datum.p))*4.75"}},"encoding":{"y":{"field":"lo","type":"quantitative","title":"Accuracy"}}},
   {"mark":{"type":"tick","size":7,"thickness":1.5,"opacity":1,"xOffset":{"expr":"(2-indexof(['p1','p2','p3','p4','p5'],datum.p))*4.75"}},"encoding":{"y":{"field":"hi","type":"quantitative","title":"Accuracy"}}},
   {"mark":{"type":"point","filled":true,"size":64,"opacity":1,"xOffset":{"expr":"(2-indexof(['p1','p2','p3','p4','p5'],datum.p))*4.75"}},"encoding":{"y":{"field":"m","type":"quantitative","title":"Accuracy"}}},
   {"mark":{"type":"line","strokeWidth":2.5,"xOffset":{"expr":"(2-indexof(['p1','p2','p3','p4','p5'],datum.p))*4.75"}},"encoding":{"y":{"field":"f","type":"quantitative","title":"Accuracy"}}}
  ]}]},
 {"title":{"text":"(E)","anchor":"start","frame":"group","dx":-29,"offset":-12,"fontSize":22,"fontWeight":"normal"},
  "resolve":{"scale":{"color":"independent"},"legend":{"color":"independent"}},
  "vconcat":[{
  "width":354,"height":300,
  "title":{"text":"Distractor to Target (RT)","frame":"group","offset":-5},
  "data":{"name":"E"},
  "encoding":{
   "x":{"field":"l","type":"ordinal","scale":{"paddingInner":0,"paddingOuter":0},"axis":{"title":"Current Target Coherence","labels":false,"ticks":false,"domainColor":"#000","domainWidth":2,"titleFontSize":19,"titleFontWeight":"bold","titleColor":"#111","titlePadding":3}},
   "color":{"field":"p","type":"nominal","scale":{"domain":["p1","p2","p3","p4","p5"],"range":["#264653","#2a9d8f","#e9c46a","#f4a261","#e76f51"]},"legend":{"orient":"none","legendX":13,"legendY":215,"title":"Previous Distractor","symbolType":"stroke","symbolStrokeWidth":4,"symbolSize":1089,"symbolOpacity":1,"clipHeight":5,"rowPadding":-10.5,"labelExpr":"datum.value=='p1'?'Congruent':datum.value=='p5'?'Incongruent':''","labelColor":{"expr":"datum.value=='p1'?'#264653':'#e76f51'"},"labelFontSize":15.5,"labelOffset":3,"titleFontSize":16.5,"titleFontWeight":"normal","titleColor":"#111","titlePadding":3,"strokeColor":"#333","fillColor":"white","padding":4}}},
  "layer":[
   {"mark":{"type":"rule","strokeWidth":1.5,"xOffset":{"expr":"(2-indexof(['p1','p2','p3','p4','p5'],datum.p))*5.5"}},"encoding":{"y":{"field":"lo","type":"quantitative","title":"Reaction Time (s)","scale":{"domain":[0.63,0.73],"nice":false,"zero":false},"axis":{"values":[0.63,0.73],"format":".2f","labelFlush":true,"labelFlushOffset":6,"domainColor":"#ef5a5a","domainWidth":2,"tickColor":"#ef5a5a","tickSize":3,"tickWidth":2,"labelColor":"#ef5a5a","labelFontSize":17.5,"labelPadding":3,"titleColor":"#ef5a5a","titleFontSize":20.5,"titleFontWeight":"bold","minExtent":6,"maxExtent":6,"titlePadding":4}},"y2":{"field":"hi"}}},
   {"mark":{"type":"tick","size":7,"thickness":1.5,"opacity":1,"xOffset":{"expr":"(2-indexof(['p1','p2','p3','p4','p5'],datum.p))*5.5"}},"encoding":{"y":{"field":"lo","type":"quantitative","title":"Reaction Time (s)"}}},
   {"mark":{"type":"tick","size":7,"thickness":1.5,"opacity":1,"xOffset":{"expr":"(2-indexof(['p1','p2','p3','p4','p5'],datum.p))*5.5"}},"encoding":{"y":{"field":"hi","type":"quantitative","title":"Reaction Time (s)"}}},
   {"mark":{"type":"point","filled":true,"size":64,"opacity":1,"xOffset":{"expr":"(2-indexof(['p1','p2','p3','p4','p5'],datum.p))*5.5"}},"encoding":{"y":{"field":"m","type":"quantitative","title":"Reaction Time (s)"}}},
   {"mark":{"type":"line","strokeWidth":2.5,"xOffset":{"expr":"(2-indexof(['p1','p2','p3','p4','p5'],datum.p))*5.5"}},"encoding":{"y":{"field":"f","type":"quantitative","title":"Reaction Time (s)"}}}
  ]}]}
 ],"spacing":25,"resolve":{"scale":{"color":"independent"},"legend":{"color":"independent"}}},
 {"title":{"text":"(F)","anchor":"start","frame":"group","dx":-41,"offset":-12,"fontSize":22,"fontWeight":"normal"},
  "vconcat":[{
  "width":141,"height":300,
  "title":{"text":"Target Betas","frame":"group","offset":-5},
  "layer":[
   {"layer":[
    {"data":{"values":[{}]},"mark":{"type":"rule","color":"#111","strokeWidth":2},"encoding":{"y":{"datum":0,"type":"quantitative","title":"Adaptation Beta (Accuracy)","scale":{"domain":[-0.4,0.4],"nice":false,"zero":false},"axis":{"values":[-0.4,0.4],"labelExpr":"datum.value > 0 ? '0.40' : '-0.40'","labelFlush":true,"labelFlushOffset":6,"domainColor":"#2b86b4","domainWidth":2,"tickColor":"#2b86b4","tickSize":3,"tickWidth":2,"labelColor":"#2b86b4","labelFontSize":17.5,"labelPadding":3,"titleColor":"#2b86b4","titleFontSize":20.5,"titleFontWeight":"bold","minExtent":5,"maxExtent":5,"titlePadding":4}}}},
    {"data":{"name":"dF"},"transform":[{"filter":"datum.k == 'acc'"}],"mark":{"type":"point","filled":true,"size":6,"color":"#2b86b4","opacity":1,"xOffset":-8},"encoding":{"x":{"field":"e","type":"nominal","scale":{"domain":["Exp1","Exp2","Exp3"],"paddingInner":0,"paddingOuter":0},"axis":{"title":null,"labelAngle":0,"labelExpr":"datum.value == 'Exp1' ? '' : datum.value","labelFontSize":19,"labelColor":"#111","domainColor":"#000","domainWidth":2,"tickColor":"#000","tickSize":5,"tickWidth":1.5,"labelPadding":2}},"y":{"field":"v","type":"quantitative","title":"Adaptation Beta (Accuracy)"}}},
    {"data":{"name":"mF"},"transform":[{"filter":"datum.k == 'acc'"}],"mark":{"type":"rule","color":"#1a1a1a","strokeWidth":2.5,"xOffset":-8},"encoding":{"x":{"field":"e","type":"nominal"},"y":{"field":"lo","type":"quantitative","title":"Adaptation Beta (Accuracy)"},"y2":{"field":"hi"}}},
    {"data":{"name":"mF"},"transform":[{"filter":"datum.k == 'acc'"}],"mark":{"type":"tick","color":"#1a1a1a","size":8,"thickness":2.5,"opacity":1,"xOffset":-8},"encoding":{"x":{"field":"e","type":"nominal"},"y":{"field":"lo","type":"quantitative","title":"Adaptation Beta (Accuracy)"}}},
    {"data":{"name":"mF"},"transform":[{"filter":"datum.k == 'acc'"}],"mark":{"type":"tick","color":"#1a1a1a","size":8,"thickness":2.5,"opacity":1,"xOffset":-8},"encoding":{"x":{"field":"e","type":"nominal"},"y":{"field":"hi","type":"quantitative","title":"Adaptation Beta (Accuracy)"}}},
    {"data":{"name":"mF"},"transform":[{"filter":"datum.k == 'acc'"}],"mark":{"type":"point","filled":true,"size":110,"color":"#1a1a1a","opacity":1,"xOffset":-8},"encoding":{"x":{"field":"e","type":"nominal"},"y":{"field":"m","type":"quantitative","title":"Adaptation Beta (Accuracy)"}}}
   ]},
   {"layer":[
    {"data":{"name":"dF"},"transform":[{"filter":"datum.k == 'rt'"}],"mark":{"type":"point","filled":true,"size":6,"color":"#f0605f","opacity":1,"xOffset":8},"encoding":{"x":{"field":"e","type":"nominal"},"y":{"field":"v","type":"quantitative","title":"Adaptation Beta (RT)","scale":{"domain":[-0.2,0.2],"nice":false,"zero":false},"axis":{"orient":"right","values":[-0.2,0.2],"labelExpr":"datum.value > 0 ? '0.20' : '-0.20'","labelFlush":true,"labelFlushOffset":6,"domainColor":"#ef5a5a","domainWidth":2,"tickColor":"#ef5a5a","tickSize":3,"tickWidth":2,"labelColor":"#ef5a5a","labelFontSize":17.5,"labelPadding":3,"titleColor":"#ef5a5a","titleFontSize":20.5,"titleFontWeight":"bold","titleAngle":270,"titleBaseline":"top","minExtent":4,"maxExtent":4,"titlePadding":-3}}}},
    {"data":{"name":"mF"},"transform":[{"filter":"datum.k == 'rt'"}],"mark":{"type":"rule","color":"#1a1a1a","strokeWidth":2.5,"xOffset":8},"encoding":{"x":{"field":"e","type":"nominal"},"y":{"field":"lo","type":"quantitative","title":"Adaptation Beta (RT)"},"y2":{"field":"hi"}}},
    {"data":{"name":"mF"},"transform":[{"filter":"datum.k == 'rt'"}],"mark":{"type":"tick","color":"#1a1a1a","size":8,"thickness":2.5,"opacity":1,"xOffset":8},"encoding":{"x":{"field":"e","type":"nominal"},"y":{"field":"lo","type":"quantitative","title":"Adaptation Beta (RT)"}}},
    {"data":{"name":"mF"},"transform":[{"filter":"datum.k == 'rt'"}],"mark":{"type":"tick","color":"#1a1a1a","size":8,"thickness":2.5,"opacity":1,"xOffset":8},"encoding":{"x":{"field":"e","type":"nominal"},"y":{"field":"hi","type":"quantitative","title":"Adaptation Beta (RT)"}}},
    {"data":{"name":"mF"},"transform":[{"filter":"datum.k == 'rt'"}],"mark":{"type":"point","filled":true,"size":110,"color":"#1a1a1a","opacity":1,"xOffset":8},"encoding":{"x":{"field":"e","type":"nominal"},"y":{"field":"m","type":"quantitative","title":"Adaptation Beta (RT)"}}}
   ]}
  ],
  "resolve":{"scale":{"y":"independent"}}
  }]}
 ],"spacing":16,"resolve":{"scale":{"color":"independent"},"legend":{"color":"independent"}}}
],
"spacing":1,"resolve":{"scale":{"color":"independent"},"legend":{"color":"independent"}}
}
